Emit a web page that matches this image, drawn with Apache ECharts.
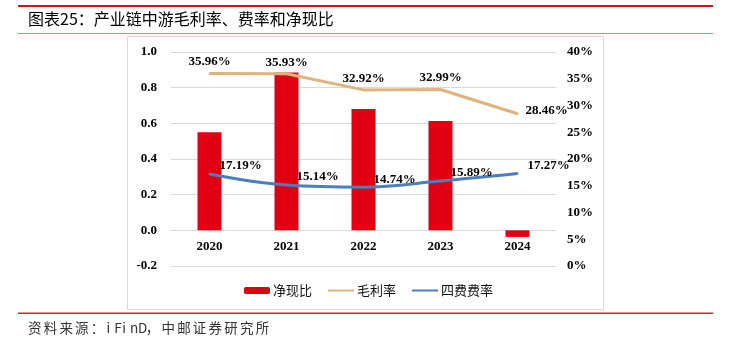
<!DOCTYPE html>
<html><head><meta charset="utf-8">
<script src="https://cdn.jsdelivr.net/npm/echarts@6/dist/echarts.min.js"></script>
<style>html,body{margin:0;padding:0;background:#fff}#c{width:737px;height:339px}</style>
</head><body><div id="c"></div>
<script>
const categories = ['2020', '2021', '2022', '2023', '2024'];
const netCashRatio = [0.55, 0.885, 0.68, 0.613, -0.037];
const grossMargin = [35.96, 35.93, 32.92, 32.99, 28.46];
const expenseRate = [17.19, 15.14, 14.74, 15.89, 17.27];
const leftTicks = [-0.2, 0.0, 0.2, 0.4, 0.6, 0.8, 1.0];
const rightTicks = [0, 5, 10, 15, 20, 25, 30, 35, 40];
const seriesNames = ['净现比', '毛利率', '四费费率'];
const titleText = '图表25：产业链中游毛利率、费率和净现比';
const sourceText = '资料来源：iFinD，中邮证券研究所';

const serif = '"Liberation Serif","Times New Roman",serif';
const cjk = '"Noto Sans CJK SC",sans-serif';
const numLabel = {fontFamily: serif, fontWeight: 'bold', fontSize: 13, color: '#000'};

// monospace-like rendering of the source line (full-width / half-width pitch)
const sourceRich = Array.from(sourceText).map(ch => (ch.charCodeAt(0) < 128 ? '{h|' : '{f|') + ch + '}').join('');

const gridTop = 52, gridBottom = 73, chartH = 339;
const plotH = chartH - gridTop - gridBottom;
const lMin = leftTicks[0], lMax = leftTicks[leftTicks.length - 1];
const zeroOffset = plotH * (0 - lMin) / (lMax - lMin);

const chart = echarts.init(document.getElementById('c'), null, {renderer: 'canvas'});
const lastIdx = grossMargin.length - 1;
chart.setOption({
  backgroundColor: '#fff',
  animation: false,
  graphic: [
    {type: 'rect', shape: {x: 18, y: 5, width: 695, height: 2}, style: {fill: '#C9151E'}},
    {type: 'text', x: 28, y: 19, style: {text: titleText, font: '16px ' + cjk, fill: '#000', textVerticalAlign: 'middle'}},
    {type: 'rect', shape: {x: 18, y: 33, width: 695, height: 1}, style: {fill: '#E57C82'}},
    {type: 'rect', shape: {x: 127.5, y: 36.5, width: 476, height: 273}, style: {fill: 'none', stroke: '#D9D9D9', lineWidth: 1}, z: -1},
    {type: 'rect', shape: {x: 18, y: 312.5, width: 695, height: 1.5}, style: {fill: '#D0262E'}},
    {type: 'text', x: 28, y: 328, style: {
      text: sourceRich, fill: '#333', verticalAlign: 'middle',
      rich: {
        f: {fontFamily: cjk, fontSize: 13.5, width: 15.7, fill: '#333'},
        h: {fontFamily: cjk, fontSize: 13.5, width: 7.85, fill: '#333'}
      }
    }}
  ],
  legend: {
    data: [
      {name: seriesNames[0]},
      {name: seriesNames[1], itemStyle: {opacity: 0}},
      {name: seriesNames[2], itemStyle: {opacity: 0}}
    ],
    top: 279, left: 'center',
    itemWidth: 26, itemHeight: 7, itemGap: 15,
    textStyle: {fontFamily: cjk, fontSize: 13, color: '#111', padding: [0, 0, 0, -2]}
  },
  grid: {left: 171, right: 181, top: gridTop, bottom: gridBottom},
  xAxis: {
    type: 'category', data: categories,
    offset: -zeroOffset,
    axisLine: {onZero: false, lineStyle: {color: '#D9D9D9'}},
    axisTick: {show: false},
    axisLabel: Object.assign({margin: 10}, numLabel)
  },
  yAxis: [
    {
      type: 'value', min: lMin, max: lMax,
      interval: +(leftTicks[1] - leftTicks[0]).toFixed(2),
      axisLine: {show: false}, axisTick: {show: false},
      splitLine: {lineStyle: {color: '#D9D9D9', width: 1}},
      axisLabel: Object.assign({margin: 14, formatter: v => v.toFixed(1)}, numLabel)
    },
    {
      type: 'value', min: rightTicks[0], max: rightTicks[rightTicks.length - 1],
      interval: rightTicks[1] - rightTicks[0],
      axisLine: {show: false}, axisTick: {show: false}, splitLine: {show: false},
      axisLabel: Object.assign({margin: 11, formatter: v => v + '%'}, numLabel)
    }
  ],
  series: [
    {
      name: seriesNames[0], type: 'bar', yAxisIndex: 0, data: netCashRatio,
      barWidth: 24, itemStyle: {color: '#E00012'}
    },
    {
      name: seriesNames[1], type: 'line', yAxisIndex: 1,
      data: grossMargin.map((v, i) => i === lastIdx ? {value: v, label: {position: 'right', distance: 7, offset: [0, -3]}} : v),
      symbol: 'circle', symbolSize: 2, showSymbol: true,
      lineStyle: {color: '#DEB37E', width: 3}, itemStyle: {color: '#DEB37E'},
      label: Object.assign({show: true, position: 'top', distance: 4, formatter: p => p.value.toFixed(2) + '%'}, numLabel)
    },
    {
      name: seriesNames[2], type: 'line', yAxisIndex: 1, data: expenseRate,
      symbol: 'circle', symbolSize: 2, showSymbol: true, smooth: 0.4,
      lineStyle: {color: '#4A7EBF', width: 3}, itemStyle: {color: '#4A7EBF'},
      label: Object.assign({show: true, position: 'right', distance: 9, offset: [0, -8], formatter: p => p.value.toFixed(2) + '%'}, numLabel)
    }
  ]
});
</script></body></html>
